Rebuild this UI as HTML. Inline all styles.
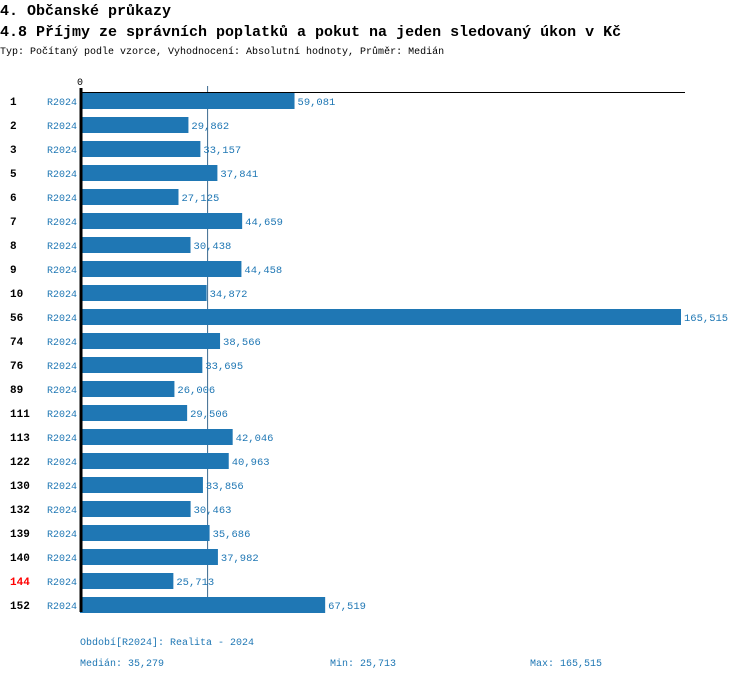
<!DOCTYPE html>
<html><head><meta charset="utf-8"><style>
body{margin:0;background:#fff;width:750px;height:680px;overflow:hidden}
svg{display:block}
text{font-family:"Liberation Mono",monospace}
</style></head><body>
<svg width="750" height="680">
<text x="0" y="15" font-size="15" font-weight="bold">4. Občanské průkazy</text>
<text x="0" y="36" font-size="15" font-weight="bold">4.8 Příjmy ze správních poplatků a pokut na jeden sledovaný úkon v Kč</text>
<text x="0" y="54" font-size="10">Typ: Počítaný podle vzorce, Vyhodnocení: Absolutní hodnoty, Průměr: Medián</text>
<text x="77" y="85" font-size="10">0</text>
<g id="bars"></g>
<line x1="80" y1="92.5" x2="685" y2="92.5" stroke="#000" stroke-width="1"/>
<line x1="81" y1="88" x2="81" y2="612" stroke="#000" stroke-width="3"/>
<text x="80" y="645" font-size="10" fill="#1f77b4">Období[R2024]: Realita - 2024</text>
<text x="80" y="666" font-size="10" fill="#1f77b4">Medián: 35,279</text>
<text x="330" y="666" font-size="10" fill="#1f77b4">Min: 25,713</text>
<text x="530" y="666" font-size="10" fill="#1f77b4">Max: 165,515</text>
</svg>
<script>
const categories=["1","2","3","5","6","7","8","9","10","56","74","76","89","111","113","122","130","132","139","140","144","152"];
const values=[59081,29862,33157,37841,27125,44659,30438,44458,34872,165515,38566,33695,26006,29506,42046,40963,33856,30463,35686,37982,25713,67519];
const highlighted=["144"];
const median=35279;
const maxV=165515;
const NS="http://www.w3.org/2000/svg";
const g=document.getElementById("bars");
const x=v=>80+v*(601/maxV);
const y=i=>93+i*24;
function mk(t,a){const e=document.createElementNS(NS,t);for(const k in a)e.setAttribute(k,a[k]);g.appendChild(e);return e;}
const m=mk("line",{x1:x(median)-0.5,x2:x(median)-0.5,y1:86,y2:612,stroke:"#3a6a8f","stroke-width":1});


values.forEach((v,i)=>{
  const r=mk("rect",{x:80,y:y(i),width:x(v)-80,height:16,fill:"#1f77b4"});
  
  
  const l=mk("text",{x:10,y:y(i)+12,"font-size":11,"font-weight":"bold",fill:highlighted.includes(categories[i])?"#ff0000":"#000"});
  l.textContent=categories[i];
  
  
  const p=mk("text",{x:47,y:y(i)+12,"font-size":10,fill:"#1f77b4"});
  p.textContent="R2024";
  
  
  const t=mk("text",{x:x(v)+3,y:y(i)+12,"font-size":10.5,fill:"#1f77b4"});
  t.textContent=v.toLocaleString("en-US");
  
  
});
</script>
</body></html>
